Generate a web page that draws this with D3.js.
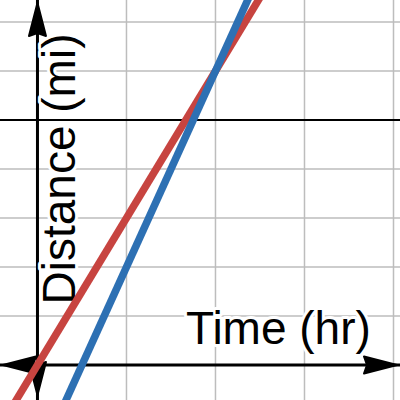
<!DOCTYPE html>
<html>
<head>
	<meta charset="utf-8">
	<title>Distance vs Time</title>
	<script src="https://cdn.jsdelivr.net/npm/d3@7/dist/d3.min.js"></script>
	<style>
		body { margin: 0; background: #fff; }
		.grid line { stroke: #bdbdbd; stroke-width: 1.5px; }
		.label {
			font-family: "Liberation Sans", Arial, sans-serif;
			font-size: 46px;
			fill: #000;
			stroke: #fff;
			stroke-width: 6px;
			stroke-linejoin: round;
			paint-order: stroke;
		}
	</style>
</head>
<body>
	<svg id="chart" width="400" height="400"></svg>

	<script>
		// grid + reference values
		var xGrid = [1, 2, 3, 4];
		var yGrid = [1, 2, 3, 4, 6, 7];
		var refDistance = [5];

		// two series, endpoints of each line (time, distance)
		var timeVals = [-1, 3];
		var redDistance = [-3, 9];
		var blueDistance = [-6, 10];

		var xLabel = 'Time (hr)';
		var yLabel = 'Distance (mi)';

		var svg = d3.select('#chart'),
			width = +svg.attr('width'),
			height = +svg.attr('height');

		var x = d3.scaleLinear().domain([-0.421, 4.073]).range([0, width]);
		var y = d3.scaleLinear().domain([-0.714, 7.449]).range([height, 0]);

		var grid = svg.append('g').attr('class', 'grid');
		grid.selectAll('.v').data(xGrid).enter().append('line')
			.attr('x1', d => x(d)).attr('x2', d => x(d))
			.attr('y1', 0).attr('y2', height);
		grid.selectAll('.h').data(yGrid).enter().append('line')
			.attr('y1', d => y(d)).attr('y2', d => y(d))
			.attr('x1', 0).attr('x2', width);

		svg.selectAll('.ref').data(refDistance).enter().append('line')
			.attr('y1', d => y(d)).attr('y2', d => y(d))
			.attr('x1', 0).attr('x2', width)
			.attr('stroke', '#000').attr('stroke-width', 2);

		// axes
		svg.append('line')
			.attr('x1', 0).attr('x2', width)
			.attr('y1', y(0)).attr('y2', y(0))
			.attr('stroke', '#000').attr('stroke-width', 3);
		svg.append('line')
			.attr('x1', x(0)).attr('x2', x(0))
			.attr('y1', 0).attr('y2', height)
			.attr('stroke', '#000').attr('stroke-width', 3);

		var arrow = 'M0,0 L-33,-8.5 L-30,0 L-33,8.5 Z';
		var arrows = [
			{ x: width - 3, y: y(0), a: 0 },
			{ x: 3, y: y(0), a: 180 },
			{ x: x(0), y: 3, a: -90 },
			{ x: x(0), y: height - 5, a: 90 }
		];
		svg.selectAll('.arrow').data(arrows).enter().append('path')
			.attr('d', arrow)
			.attr('transform', d => 'translate(' + d.x + ',' + d.y + ') rotate(' + d.a + ')')
			.attr('fill', '#000').attr('stroke', '#000')
			.attr('stroke-width', 2).attr('stroke-linejoin', 'round');

		// labels
		svg.append('text')
			.attr('class', 'label')
			.attr('x', 186).attr('y', 344)
			.text(xLabel);
		svg.append('text')
			.attr('class', 'label')
			.attr('text-anchor', 'middle')
			.attr('transform', 'translate(75,169) rotate(-90)')
			.text(yLabel);

		// lines
		var line = d3.line()
			.x(d => x(d[0]))
			.y(d => y(d[1]));

		var series = [
			{ color: '#c74440', pts: d3.zip(timeVals, redDistance) },
			{ color: '#2d70b3', pts: d3.zip(timeVals, blueDistance) }
		];
		svg.selectAll('.series').data(series).enter().append('path')
			.attr('d', d => line(d.pts))
			.attr('fill', 'none')
			.attr('stroke', d => d.color)
			.attr('stroke-width', 7.5);
	</script>
</body>
</html>
